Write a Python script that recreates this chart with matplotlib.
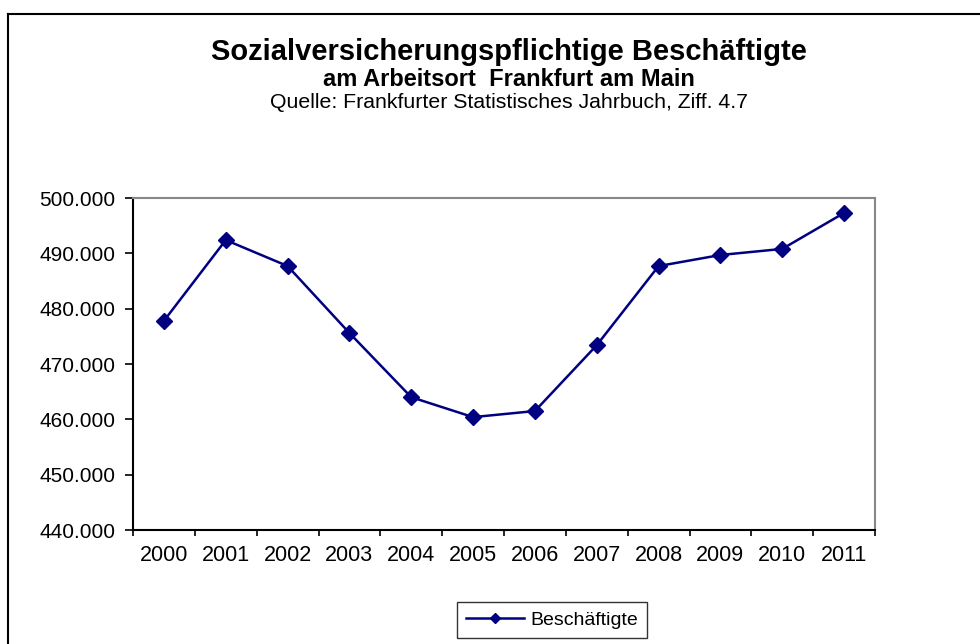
import matplotlib
matplotlib.use("Agg")
import matplotlib.pyplot as plt
from matplotlib.lines import Line2D
import numpy as np

years = ["2000", "2001", "2002", "2003", "2004", "2005", "2006", "2007", "2008", "2009", "2010", "2011"]
employees = [477800, 492400, 487700, 475600, 464000, 460400, 461500, 473400, 487700, 489700, 490800, 497300]
y_ticks = [440000, 450000, 460000, 470000, 480000, 490000, 500000]
y_tick_labels = ["440.000", "450.000", "460.000", "470.000", "480.000", "490.000", "500.000"]

plt.rcParams['font.family'] = ['Liberation Sans', 'DejaVu Sans']

W, H = 980, 644
fig = plt.figure(figsize=(W / 100, H / 100), dpi=100)

# figure frame lines (top and left)
fig.add_artist(Line2D([8 / W, 1.0], [1 - 14 / H, 1 - 14 / H], color="black", lw=1.5, transform=fig.transFigure))
fig.add_artist(Line2D([8 / W, 8 / W], [0, 1 - 14 / H], color="black", lw=1.5, transform=fig.transFigure))

left, right, top, bottom = 133 / W, 875 / W, 198 / H, 530 / H
ax = fig.add_axes([left, 1 - bottom, right - left, bottom - top])

x = np.arange(len(years))
ax.plot(x, employees, color="#000080", lw=1.8, marker="D", markersize=8,
        label="Beschäftigte")

ax.set_xlim(-0.5, len(years) - 0.5)
ax.set_ylim(440000, 500000)
ax.set_yticks(y_ticks)
ax.set_yticklabels(y_tick_labels, fontsize=15)
ax.set_xticks(x)
ax.set_xticklabels(years, fontsize=15.5)
ax.set_xticks(np.arange(-0.5, len(years), 1.0), minor=True)
ax.tick_params(axis="x", which="major", length=0, pad=11)
ax.tick_params(axis="x", which="minor", length=4.5, width=1.2, direction="out", color="black")
ax.tick_params(axis="y", length=5.5, width=1.2, direction="out", pad=7, color="black")

ax.spines["left"].set_color("black")
ax.spines["left"].set_linewidth(1.5)
ax.spines["bottom"].set_color("black")
ax.spines["bottom"].set_linewidth(1.5)
ax.spines["top"].set_color("#888888")
ax.spines["top"].set_linewidth(1.5)
ax.spines["right"].set_color("#888888")
ax.spines["right"].set_linewidth(1.5)

cx = 509 / W
fig.text(cx, 1 - 52 / H, "Sozialversicherungspflichtige Beschäftigte", ha="center", va="center",
         fontsize=21, fontweight="bold")
fig.text(cx, 1 - 80 / H, "am Arbeitsort  Frankfurt am Main", ha="center", va="center",
         fontsize=17, fontweight="bold")
fig.text(cx, 1 - 103 / H, "Quelle: Frankfurter Statistisches Jahrbuch, Ziff. 4.7", ha="center", va="center",
         fontsize=15.3)

leg = fig.legend(loc="center", bbox_to_anchor=(552 / W, 1 - 620 / H), fontsize=14,
                 frameon=True, fancybox=False, edgecolor="black", handlelength=3.0,
                 borderpad=0.45, handletextpad=0.3, markerscale=0.6)
leg.get_frame().set_linewidth(1.0)

fig.savefig("out.png", dpi=100)
